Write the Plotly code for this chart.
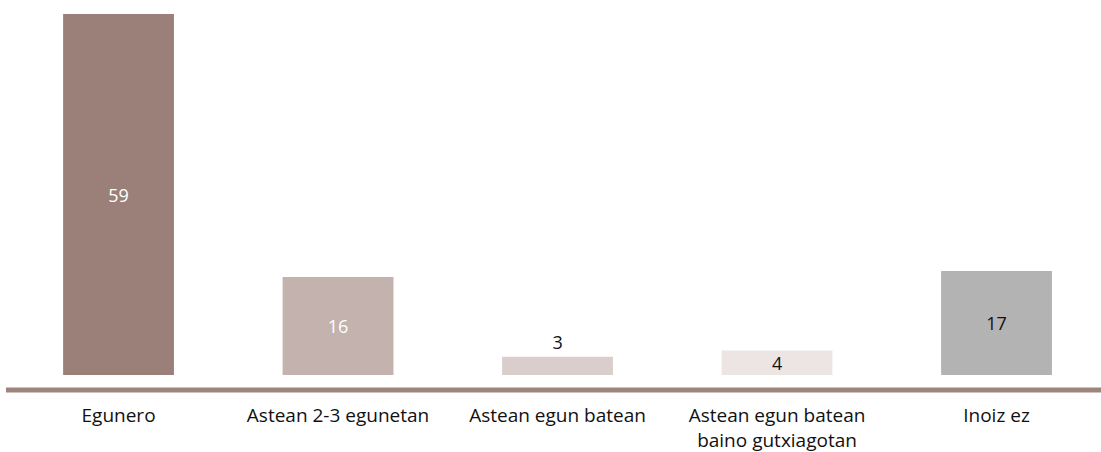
import plotly.graph_objects as go

categories = ["Egunero", "Astean 2-3 egunetan", "Astean egun batean",
              "Astean egun batean<br>baino gutxiagotan", "Inoiz ez"]
values = [59, 16, 3, 4, 17]
bar_colors = ["#9b8079", "#c3b2ae", "#d9cecb", "#ece5e4", "#b3b3b3"]
text_colors = ["#ffffff", "#ffffff", "#111111", "#111111", "#111111"]
text_positions = ["inside", "inside", "outside", "inside", "inside"]

FONT = "Open Sans"

fig = go.Figure(go.Bar(
    x=categories,
    y=values,
    marker=dict(color=bar_colors, line=dict(width=0)),
    text=[str(v) for v in values],
    textposition=text_positions,
    insidetextanchor="middle",
    textangle=0,
    textfont=dict(family=FONT, size=18, color=text_colors),
    constraintext="none",
    cliponaxis=False,
    hoverinfo="skip",
))

W, H = 1101, 452
fig.update_layout(
    width=W, height=H,
    margin=dict(l=0, r=0, t=0, b=62),
    plot_bgcolor="white", paper_bgcolor="white",
    bargap=0.495,
    showlegend=False,
    font=dict(family=FONT, size=19, color="#111111"),
    xaxis=dict(
        type="category",
        range=[-0.54, 4.476],
        showgrid=False, zeroline=False, showline=False,
        ticks="", tickfont=dict(family=FONT, size=19, color="#111111"),
        ticklabelstandoff=12,
    ),
    yaxis=dict(
        range=[-2.45, 61.29],
        showgrid=False, zeroline=False, showline=False,
        showticklabels=False, ticks="",
    ),
    shapes=[dict(
        type="line", xref="paper", yref="paper",
        x0=6 / W, x1=1, y0=0, y1=0,
        line=dict(color="#9e847e", width=5),
    )],
)

fig.write_html(
    "out.html",
    config={"displayModeBar": False},
    post_script="document.body.style.margin='0';document.body.style.overflow='hidden';",
)
